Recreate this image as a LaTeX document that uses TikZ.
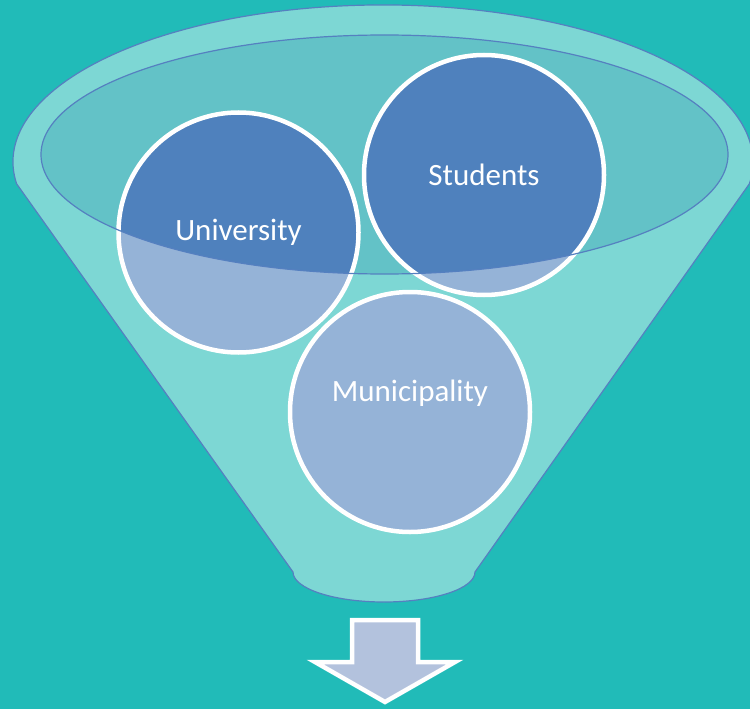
\documentclass[tikz,border=0pt]{standalone}
\usepackage{fontspec}
\setmainfont{Carlito}
\definecolor{bgteal}{HTML}{21BBB8}
\definecolor{fnlteal}{HTML}{7DD7D4}
\definecolor{mouthteal}{HTML}{63C2C7}
\definecolor{rimblue}{HTML}{5580C0}
\definecolor{darkblue}{HTML}{4F81BD}
\definecolor{lightblue}{HTML}{95B3D7}
\definecolor{arrowblue}{HTML}{B3C2DD}
\tikzset{%
  circ/.style={draw=white,shape=circle,line width=4.5pt,fill=lightblue,
    minimum size=240pt,inner sep=0,text=white,font=\fontsize{31}{37}\selectfont,
    path picture={\fill[darkblue] (e_c) ellipse[x radius=343.5,y radius=119.5];}},
  lbl/.style={text=white,inner sep=0,font=\fontsize{31}{37}\selectfont},
  rim/.style={draw=rimblue,line width=1.2pt},
  downarrow/.style={draw=white,fill=arrowblue,line width=4.5pt,line join=miter}
}
\begin{document}
\begin{tikzpicture}[x=1pt,y=1pt]
  \fill[bgteal] (0,0) rectangle (750,-709);
  \useasboundingbox (0,0) rectangle (750,-709);
  \coordinate (e_c) at (384.5,-154.5);
  % funnel body
  \path[rim,fill=fnlteal] (16.6,-183.8)
    arc[start angle=188,end angle=-8,x radius=370,y radius=157]
    -- (475,-572)
    arc[start angle=0,end angle=-180,x radius=91,y radius=30]
    -- cycle;
  \fill[mouthteal] (e_c) ellipse[x radius=343.5,y radius=119.5];
  % circles
  \node[circ] (c_univ) at (238.5,-232.5) {University};
  \node[circ] (c_stud) at (484,-175) {Students};
  \node[circ,label={[lbl,yshift=19pt]center:Municipality}] (c_muni) at (410,-412) {};
  \draw[rim] (e_c) ellipse[x radius=343.5,y radius=119.5];
  % arrow
  \draw[downarrow] (352,-620) -- (418,-620) -- (418,-662) -- (455,-662)
    -- (385,-702) -- (315,-662) -- (352,-662) -- cycle;
\end{tikzpicture}
\end{document}
